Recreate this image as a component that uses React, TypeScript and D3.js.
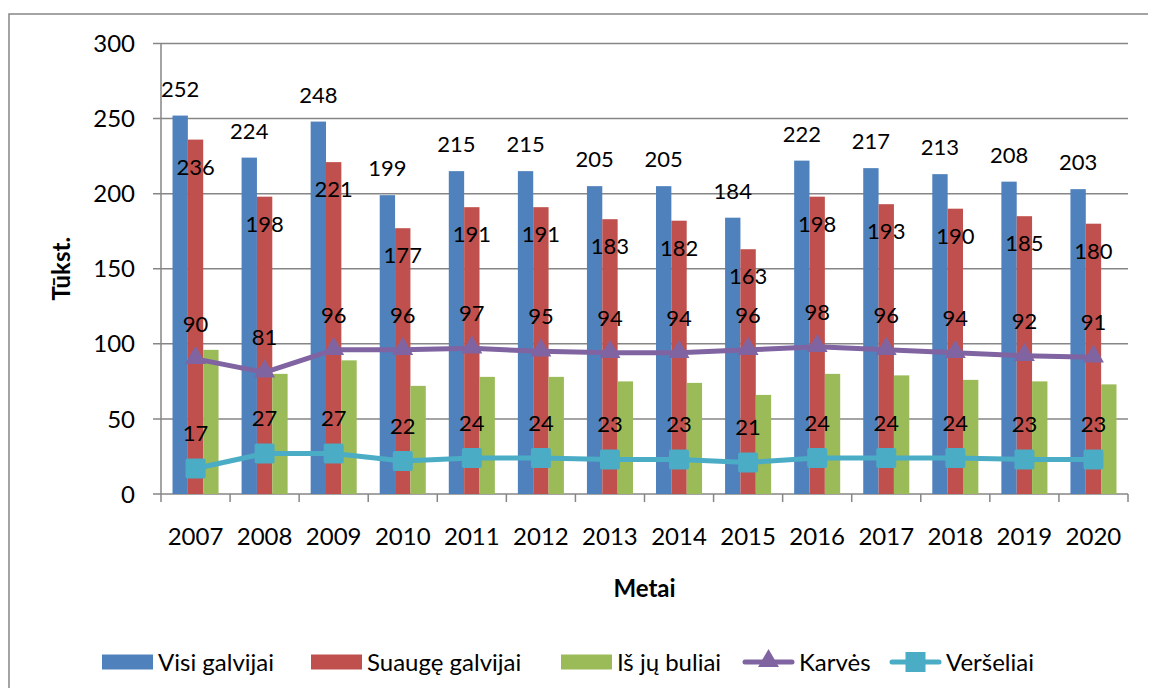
import React from "react";
import * as d3 from "d3";

// values
const years = ["2007", "2008", "2009", "2010", "2011", "2012", "2013", "2014", "2015", "2016", "2017", "2018", "2019", "2020"];
const visiGalvijai = [252, 224, 248, 199, 215, 215, 205, 205, 184, 222, 217, 213, 208, 203];
const suaugeGalvijai = [236, 198, 221, 177, 191, 191, 183, 182, 163, 198, 193, 190, 185, 180];
const buliai = [96, 80, 89, 72, 78, 78, 75, 74, 66, 80, 79, 76, 75, 73];
const karves = [90, 81, 96, 96, 97, 95, 94, 94, 96, 98, 96, 94, 92, 91];
const verseliai = [17, 27, 27, 22, 24, 24, 23, 23, 21, 24, 24, 24, 23, 23];
const yTicks = [0, 50, 100, 150, 200, 250, 300];

const barSeries = [
  { name: "Visi galvijai", values: visiGalvijai, color: "#4F81BD" },
  { name: "Suaugę galvijai", values: suaugeGalvijai, color: "#C0504D" },
  { name: "Iš jų buliai", values: buliai, color: "#9BBB59" },
];

const FONT = "Lato, 'Open Sans', sans-serif";
const GRID = "#868686";

export default function App() {
  const left = 161, right = 1128, top = 43.5, bottom = 494;

  const x = d3.scaleBand().domain(years).range([left, right]);
  const y = d3.scaleLinear().domain([0, 300]).range([bottom, top]);
  const bw = x.bandwidth();
  const barW = bw / 4.5; // gap width 150%
  const groupLeft = (yr) => x(yr) + (bw - barW * 3) / 2;
  const cx = (yr) => x(yr) + bw / 2;

  const line = d3.line().x((d) => cx(d[0])).y((d) => y(d[1]));
  const karvesPts = years.map((yr, i) => [yr, karves[i]]);
  const versPts = years.map((yr, i) => [yr, verseliai[i]]);

  const tri = d3.symbol().type(d3.symbolTriangle).size(190)();

  return (
    <svg width={1140} height={680} style={{ display: "block", fontFamily: FONT }}>
      {/* outer frame */}
      <rect x={1} y={6} width={1200} height={800} fill="#fff" stroke={GRID} strokeWidth={1.5} />

      {/* grid + y axis */}
      <g transform="translate(-8,-8)">
        {yTicks.map((t) => (
          <g key={t}>
            <line x1={left - 8} x2={right} y1={y(t)} y2={y(t)} stroke={GRID} strokeWidth={1.5} />
            <text x={left - 26} y={y(t)} dy="0.36em" textAnchor="end" fontSize={24} fill="#000">{t}</text>
          </g>
        ))}
        <line x1={left} x2={left} y1={top} y2={bottom} stroke={GRID} strokeWidth={1.5} />
        {d3.range(years.length + 1).map((i) => {
          const xx = left + i * bw;
          return <line key={i} x1={xx} x2={xx} y1={bottom} y2={bottom + 8} stroke={GRID} strokeWidth={1.5} />;
        })}

        {/* bars */}
        {barSeries.map((s, si) => (
          <g key={s.name}>
            {years.map((yr, i) => (
              <rect key={yr} x={groupLeft(yr) + si * barW} y={y(s.values[i])} width={barW}
                height={bottom - y(s.values[i])} fill={s.color} />
            ))}
          </g>
        ))}

        {/* lines */}
        <path d={line(karvesPts)} fill="none" stroke="#8064A2" strokeWidth={5} strokeLinejoin="round" />
        {karvesPts.map((p) => (
          <path key={p[0]} d={tri} transform={`translate(${cx(p[0])},${y(p[1]) - 1})`} fill="#8064A2" />
        ))}
        <path d={line(versPts)} fill="none" stroke="#4BACC6" strokeWidth={5} strokeLinejoin="round" />
        {versPts.map((p) => (
          <rect key={p[0]} x={cx(p[0]) - 10} y={y(p[1]) - 10} width={20} height={20} rx={2} fill="#4BACC6" />
        ))}

        {/* data labels */}
        {years.map((yr, i) => (
          <g key={yr} fontSize={22} fill="#000" textAnchor="middle">
            <text x={groupLeft(yr) + barW / 2} y={y(visiGalvijai[i]) - 19}>{visiGalvijai[i]}</text>
            <text x={cx(yr)} y={y(suaugeGalvijai[i]) + 35}>{suaugeGalvijai[i]}</text>
            <text x={cx(yr)} y={y(karves[i]) - 27}>{karves[i]}</text>
            <text x={cx(yr)} y={y(verseliai[i]) - 27}>{verseliai[i]}</text>
          </g>
        ))}

        {/* x labels */}
        {years.map((yr) => (
          <text key={yr} x={cx(yr)} y={545} textAnchor="middle" fontSize={24} fill="#000">{yr}</text>
        ))}

        <text x={(left + right) / 2} y={597} textAnchor="middle" fontSize={24} fontWeight="bold">Metai</text>
        <text transform={`translate(70,${(top + bottom) / 2}) rotate(-90)`} textAnchor="middle" fontSize={24} fontWeight="bold">Tūkst.</text>

        {/* legend */}
        <g fontSize={24} fill="#000">
          {[
            { x: 102, kind: "bar", color: "#4F81BD", name: "Visi galvijai" },
            { x: 311, kind: "bar", color: "#C0504D", name: "Suaugę galvijai" },
            { x: 561, kind: "bar", color: "#9BBB59", name: "Iš jų buliai" },
            { x: 743, kind: "tri", color: "#8064A2", name: "Karvės" },
            { x: 890, kind: "sq", color: "#4BACC6", name: "Veršeliai" },
          ].map((l) => (
            <g key={l.name} transform={`translate(${l.x},662)`}>
              {l.kind === "bar" ? (
                <rect x={0} y={-7.5} width={51} height={15} fill={l.color} />
              ) : (
                <g>
                  <line x1={2} x2={49} y1={0} y2={0} stroke={l.color} strokeWidth={5} strokeLinecap="round" />
                  {l.kind === "tri" ? (
                    <path d={tri} transform="translate(25.5,-1)" fill={l.color} />
                  ) : (
                    <rect x={15.5} y={-10} width={20} height={20} fill={l.color} />
                  )}
                </g>
              )}
              <text x={56} dy="0.36em">{l.name}</text>
            </g>
          ))}
        </g>
      </g>
    </svg>
  );
}
